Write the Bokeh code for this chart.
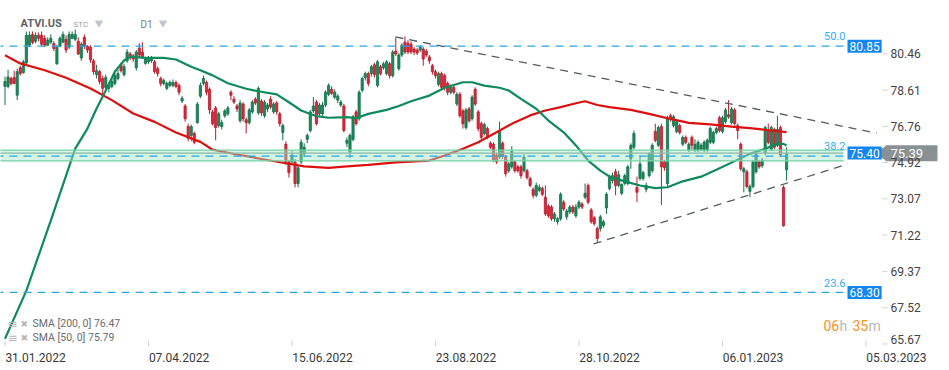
from bokeh.plotting import figure
from bokeh.models import Range1d, FixedTicker, Label, ColumnDataSource
from bokeh.embed import file_html
from bokeh.resources import INLINE

# ---------------- data ----------------
x_tick_index = [0, 47, 94, 141, 188, 235, 282]
x_tick_labels = ["31.01.2022", "07.04.2022", "15.06.2022", "23.08.2022",
                 "28.10.2022", "06.01.2023", "05.03.2023"]
price_ticks = [65.67, 67.52, 69.37, 71.22, 73.07, 74.92, 76.76, 78.61, 80.46]

opens = [
    78.80, 78.80, 79.20, 79.25, 78.35, 79.75, 79.50, 80.00, 80.90, 81.45,
    81.10, 81.40, 81.40, 81.25, 80.90, 81.05, 80.98, 79.95, 80.85, 81.05,
    81.20, 80.80, 81.25, 81.20, 81.10, 80.25, 81.30, 80.85, 80.80, 80.10,
    79.40, 79.55, 79.20, 78.75, 78.70, 78.80, 78.95, 79.20, 79.90, 79.40,
    80.10, 80.45, 80.35, 79.75, 80.75, 80.55, 79.97, 80.05, 80.10, 80.05,
    79.70, 79.20, 78.95, 78.70, 78.85, 78.85, 79.00, 78.85, 78.05, 77.80,
    76.75, 76.30, 76.40, 76.95, 78.30, 78.95, 79.00, 78.65, 77.50, 77.70,
    76.80, 76.75, 77.30, 77.40, 78.50, 78.15, 77.80, 77.05, 77.90, 77.10,
    76.95, 77.50, 78.15, 77.45, 78.05, 77.30, 77.65, 78.15, 77.50, 77.95,
    77.40, 76.45, 75.85, 74.95, 74.95, 74.95, 73.85, 74.95, 75.35, 76.10,
    76.55, 77.55, 78.00, 77.40, 77.40, 77.85, 78.40, 78.65, 78.25, 78.10,
    77.85, 77.80, 75.90, 75.45, 76.10, 77.50, 77.15, 78.60, 79.25, 79.45,
    79.45, 79.90, 78.85, 79.80, 79.75, 79.45, 79.95, 79.35, 80.60, 79.70,
    80.40, 81.05, 81.00, 80.95, 80.70, 80.65, 80.65, 80.70, 80.60, 80.30,
    79.85, 79.55, 78.90, 79.45, 79.35, 78.95, 78.50, 78.75, 77.90, 78.40,
    77.55, 76.70, 77.65, 77.15, 78.65, 77.50, 76.90, 76.40, 76.65, 75.90,
    75.85, 75.30, 75.20, 75.90, 75.20, 74.50, 74.70, 74.95, 74.70, 74.70,
    74.50, 74.50, 74.10, 73.55, 73.25, 73.50, 73.60, 73.15, 72.70, 72.65,
    72.05, 71.90, 72.05, 72.90, 72.15, 72.40, 72.65, 72.20, 72.65, 72.80,
    73.15, 73.75, 72.50, 72.10, 71.55, 71.55, 71.70, 72.60, 73.60, 74.00,
    74.45, 73.75, 73.35, 73.85, 73.85, 75.10, 75.70, 73.65, 74.10, 74.10,
    73.55, 74.25, 74.50, 76.50, 75.80, 76.75, 74.95, 73.85, 77.30, 76.80,
    76.50, 76.80, 75.85, 76.20, 75.55, 76.20, 75.55, 75.55, 75.60, 75.55,
    75.55, 75.95, 75.95, 76.45, 77.20, 76.50, 77.00, 77.35, 76.95, 77.60,
    76.80, 75.85, 74.45, 74.45, 73.45, 73.70, 74.45, 74.95, 74.75, 75.40,
    76.55, 75.60, 76.60, 75.80, 76.70, 73.65, 74.55]

highs = [
    79.30, 79.65, 79.30, 79.60, 79.70, 79.85, 80.15, 81.60, 81.60, 81.60,
    81.55, 81.55, 81.60, 81.40, 81.30, 81.45, 81.10, 80.90, 81.35, 81.60,
    81.40, 81.60, 81.60, 81.70, 81.30, 81.05, 81.45, 80.90, 80.90, 80.20,
    79.90, 79.65, 79.35, 79.40, 79.00, 79.20, 79.50, 79.65, 80.00, 79.95,
    80.70, 80.55, 80.45, 80.65, 81.00, 81.05, 80.30, 80.35, 80.35, 80.15,
    79.80, 79.30, 79.20, 79.05, 79.10, 79.15, 79.10, 78.95, 78.30, 77.90,
    76.90, 76.85, 76.50, 78.00, 79.00, 79.35, 79.10, 78.75, 77.60, 77.80,
    77.50, 77.10, 77.65, 77.80, 78.60, 78.30, 77.90, 78.10, 78.00, 77.20,
    77.70, 78.10, 78.25, 78.80, 78.15, 78.10, 77.95, 78.30, 78.00, 78.05,
    77.50, 76.90, 76.00, 75.05, 75.50, 75.10, 74.75, 76.10, 75.90, 76.40,
    77.60, 78.25, 78.10, 77.95, 78.00, 78.60, 78.95, 78.80, 78.65, 78.40,
    78.10, 77.90, 76.20, 76.40, 77.35, 77.60, 78.60, 79.30, 79.55, 79.55,
    79.90, 80.00, 80.15, 79.90, 80.05, 80.15, 80.05, 80.65, 81.30, 80.50,
    81.00, 81.35, 81.15, 81.10, 80.80, 80.75, 80.90, 80.80, 80.70, 80.40,
    79.95, 79.65, 79.55, 79.55, 79.45, 79.05, 78.90, 78.85, 78.50, 78.50,
    77.65, 77.70, 77.75, 78.35, 78.75, 77.60, 77.00, 76.95, 76.75, 76.00,
    75.95, 75.40, 77.00, 76.00, 75.30, 74.95, 75.75, 75.05, 74.80, 74.80,
    75.35, 74.60, 74.20, 73.65, 73.90, 73.80, 73.70, 73.75, 72.80, 72.75,
    72.40, 72.15, 73.40, 73.00, 72.55, 72.75, 72.75, 72.80, 73.00, 72.90,
    73.85, 73.85, 72.60, 72.20, 71.65, 72.25, 72.00, 73.40, 74.30, 74.40,
    74.60, 74.50, 73.85, 74.35, 74.80, 75.90, 76.55, 74.20, 75.30, 74.50,
    73.90, 75.45, 75.90, 76.90, 76.80, 76.90, 75.05, 77.30, 77.40, 77.35,
    77.10, 76.90, 76.30, 76.30, 75.95, 76.30, 76.10, 76.05, 75.90, 76.05,
    76.15, 76.75, 76.55, 76.75, 77.30, 77.30, 77.70, 78.10, 77.75, 77.70,
    76.90, 75.95, 74.70, 74.55, 73.80, 75.05, 75.45, 75.05, 75.15, 76.80,
    76.90, 76.80, 76.70, 77.30, 76.80, 73.75, 75.70]

lows = [
    77.85, 78.70, 78.85, 78.90, 78.10, 79.35, 79.45, 79.90, 80.80, 80.95,
    81.00, 81.10, 80.85, 80.80, 80.85, 80.95, 80.60, 79.90, 80.80, 81.00,
    80.50, 80.70, 81.20, 81.10, 80.40, 80.10, 80.70, 80.50, 80.00, 79.40,
    79.20, 78.90, 78.40, 78.60, 78.50, 78.70, 78.85, 79.10, 79.50, 79.30,
    80.00, 80.15, 80.05, 79.60, 80.30, 80.20, 79.90, 79.95, 80.00, 79.45,
    79.30, 78.80, 78.85, 78.60, 78.75, 78.75, 78.70, 78.35, 77.95, 77.00,
    76.00, 76.00, 75.85, 76.90, 78.20, 78.85, 78.35, 77.40, 76.80, 76.05,
    76.70, 76.60, 77.20, 77.30, 78.10, 77.90, 77.50, 76.95, 77.00, 76.40,
    76.85, 77.40, 77.85, 77.35, 77.30, 77.20, 77.50, 77.65, 77.40, 77.35,
    76.75, 76.05, 74.80, 74.15, 74.80, 73.65, 73.65, 74.85, 75.20, 75.90,
    76.45, 77.45, 76.80, 77.30, 77.30, 77.75, 78.30, 78.35, 78.15, 77.95,
    77.75, 76.45, 75.70, 75.15, 76.00, 76.80, 77.05, 78.50, 79.10, 78.80,
    79.30, 79.25, 78.75, 79.35, 79.65, 79.35, 79.20, 79.25, 80.35, 79.60,
    80.30, 80.45, 80.45, 80.45, 80.40, 80.40, 80.55, 79.85, 80.30, 79.95,
    79.40, 79.20, 78.80, 78.60, 78.60, 78.35, 78.40, 78.40, 77.80, 77.20,
    76.65, 76.60, 76.95, 77.05, 77.80, 76.50, 76.10, 76.30, 76.10, 75.60,
    74.95, 74.85, 75.10, 75.10, 74.20, 74.40, 74.60, 74.40, 74.40, 74.10,
    74.40, 74.05, 73.65, 73.10, 73.15, 73.40, 73.20, 72.20, 72.10, 71.95,
    71.90, 71.75, 71.95, 72.45, 72.00, 72.30, 72.30, 72.10, 72.55, 72.55,
    73.05, 72.80, 71.80, 71.70, 70.85, 71.40, 71.60, 72.30, 73.50, 73.85,
    73.25, 73.65, 73.25, 73.75, 73.75, 74.60, 75.60, 72.90, 74.00, 74.00,
    73.40, 74.15, 74.40, 75.95, 75.70, 72.75, 74.50, 73.70, 77.00, 76.70,
    76.40, 76.35, 75.75, 75.85, 75.45, 75.55, 75.45, 75.45, 75.50, 75.45,
    75.45, 75.85, 75.85, 76.35, 76.45, 76.40, 76.90, 77.15, 76.85, 76.80,
    76.10, 74.50, 73.40, 73.60, 73.15, 73.60, 74.35, 74.60, 74.65, 75.30,
    75.85, 75.50, 75.60, 75.70, 75.20, 71.65, 74.00]

closes = [
    79.05, 79.28, 78.95, 78.95, 79.55, 79.45, 80.05, 81.40, 81.40, 81.05,
    81.40, 81.25, 80.95, 80.90, 81.15, 81.25, 80.73, 80.80, 81.25, 81.45,
    80.65, 81.45, 81.45, 81.45, 80.45, 80.95, 80.85, 80.65, 80.15, 79.55,
    79.60, 79.05, 78.70, 79.25, 78.85, 79.05, 79.35, 79.45, 79.60, 79.80,
    80.55, 80.25, 80.20, 80.55, 80.40, 80.30, 80.20, 80.25, 80.25, 79.55,
    79.45, 78.95, 79.10, 78.95, 79.00, 79.00, 78.80, 78.50, 78.20, 77.15,
    76.15, 76.75, 75.95, 77.90, 78.85, 79.20, 78.50, 77.60, 76.90, 76.70,
    77.40, 76.95, 77.55, 77.70, 78.35, 78.00, 77.65, 77.95, 77.15, 76.95,
    77.60, 78.00, 77.95, 78.70, 77.45, 78.00, 77.85, 77.75, 77.90, 77.50,
    76.90, 76.80, 74.95, 74.40, 75.30, 73.85, 74.65, 75.95, 75.70, 76.30,
    77.50, 77.80, 76.90, 77.85, 77.85, 78.50, 78.85, 78.45, 78.50, 78.30,
    78.00, 76.55, 76.05, 76.30, 77.25, 76.90, 78.50, 79.20, 79.45, 78.95,
    79.80, 79.40, 80.05, 79.45, 79.95, 80.05, 79.35, 80.55, 80.45, 80.40,
    80.90, 80.55, 80.55, 80.55, 80.55, 80.50, 80.80, 80.20, 80.40, 80.10,
    79.55, 79.35, 79.45, 78.75, 78.75, 78.50, 78.75, 78.50, 78.40, 77.30,
    76.90, 77.60, 77.05, 78.25, 77.90, 76.65, 76.20, 76.85, 76.20, 75.70,
    75.05, 74.95, 76.55, 75.25, 74.35, 74.85, 75.50, 74.50, 74.50, 74.25,
    75.20, 74.15, 73.75, 73.25, 73.75, 73.65, 73.30, 72.30, 72.20, 72.05,
    72.30, 72.05, 73.30, 72.55, 72.45, 72.65, 72.40, 72.65, 72.90, 72.65,
    73.35, 72.90, 71.90, 71.80, 71.05, 72.15, 71.90, 73.30, 74.15, 74.25,
    73.75, 74.30, 73.80, 74.25, 74.70, 75.80, 76.40, 73.40, 74.85, 74.40,
    73.75, 75.35, 75.80, 76.05, 76.70, 74.70, 74.65, 77.15, 77.15, 77.25,
    77.00, 76.45, 76.20, 75.95, 75.85, 75.80, 75.85, 75.95, 75.80, 75.95,
    76.05, 76.65, 76.45, 76.65, 76.55, 77.20, 77.60, 77.25, 77.65, 76.90,
    76.55, 74.60, 74.60, 73.70, 73.70, 74.95, 75.35, 74.70, 75.05, 76.70,
    75.95, 76.70, 75.70, 76.60, 75.30, 71.70, 75.39]

sma200_index = [0, 5, 13, 20, 28, 35, 42, 49, 56, 64, 68, 76, 84, 92, 98, 106, 112,
                119, 128, 139, 144, 150, 155, 161, 166, 172, 177, 182, 187, 190, 194,
                198, 205, 211, 218, 224, 231, 238, 244, 251, 256]
sma200_values = [80.39, 79.97, 79.62, 79.24, 78.69, 78.10, 77.42, 76.99, 76.45, 75.97,
                 75.57, 75.33, 75.10, 74.88, 74.72, 74.65, 74.72, 74.80, 74.93, 75.02,
                 75.28, 75.62, 75.95, 76.46, 76.89, 77.32, 77.57, 77.74, 77.94, 78.04,
                 77.85, 77.74, 77.60, 77.40, 77.14, 76.94, 76.86, 76.75, 76.67, 76.55,
                 76.47]

sma50_index = [0, 7, 15, 23, 27, 30, 33, 36, 39, 41, 46, 52, 56, 61, 64, 68, 73, 79, 83,
               89, 93, 97, 102, 106, 112, 115, 119, 125, 129, 133, 139, 144, 150, 153,
               157, 162, 165, 169, 174, 178, 183, 187, 191, 195, 198, 203, 208, 213,
               217, 222, 228, 233, 239, 244, 249, 253, 255, 256]
sma50_values = [65.94, 68.39, 71.96, 75.63, 76.65, 77.67, 78.59, 79.56, 80.12, 80.32,
                80.25, 80.25, 80.17, 79.80, 79.62, 79.36, 78.96, 78.68, 78.55, 78.39,
                77.99, 77.57, 77.28, 77.20, 77.23, 77.18, 77.40, 77.60, 77.80, 78.04,
                78.33, 78.73, 79.01, 79.01, 78.84, 78.73, 78.59, 78.16, 77.66, 77.06,
                76.46, 75.79, 75.02, 74.51, 74.20, 73.96, 73.75, 73.61, 73.66, 73.96,
                74.20, 74.55, 74.99, 75.36, 75.62, 75.87, 75.87, 75.79]

fib_levels = [80.85, 75.24, 68.30]
fib_labels = ["50.0", "38.2", "23.6"]
level_boxes = [80.85, 75.40, 68.30]
zone_bottom, zone_level, zone_top = 75.00, 75.40, 75.55
trend_top_index = [127.9, 285.5]
trend_top_price = [81.32, 76.42]
trend_low_index = [192.8, 276.0]
trend_low_price = [70.77, 74.84]
last_price = 75.39
sma200_last = 76.47
sma50_last = 75.79

# ---------------- helpers (reference pixel -> data) ----------------
def ix(px):
    return (px - 4.5) / 3.053

def py(px):
    return 83.177 - px / 19.62

FONT = "Roboto"
GREEN, GREEN_EDGE = "#1b8a5a", "#12704a"
RED, RED_EDGE = "#e0283b", "#b51c2c"
BLUE = "#2aa6e8"
GRAYBOX = "#899195"

p = figure(frame_width=941, frame_height=346,
           x_range=Range1d(ix(0), ix(941)), y_range=Range1d(py(346), py(0)),
           output_backend="svg", toolbar_location=None,
           min_border_left=0, min_border_top=0, min_border_right=0, min_border_bottom=16,
           background_fill_color="white", border_fill_color="white",
           outline_line_color=None)
p.xgrid.visible = False
p.ygrid.visible = False
p.yaxis.visible = False

# ---------------- candles ----------------
n = len(closes)
xs = list(range(n))
up = [c >= o for o, c in zip(opens, closes)]
src = ColumnDataSource(dict(
    x=xs,
    top=[max(o, c) for o, c in zip(opens, closes)],
    bottom=[min(o, c) for o, c in zip(opens, closes)],
    high=highs, low=lows,
    fill=[GREEN if u else RED for u in up],
    edge=[GREEN_EDGE if u else RED_EDGE for u in up],
))
p.segment(x0="x", x1="x", y0="low", y1="high", line_color="edge", line_width=1, source=src)
p.vbar(x="x", width=0.72, top="top", bottom="bottom", fill_color="fill",
       line_color="edge", line_width=0.8, source=src)

# ---------------- moving averages ----------------
p.line(sma200_index, sma200_values, line_color="#dd1010", line_width=2.2)
p.line(sma50_index, sma50_values, line_color="#0e8a5c", line_width=2.2)

# ---------------- zone (semi-transparent) ----------------
p.quad(left=[ix(-5)], right=[ix(843)], bottom=[zone_bottom], top=[zone_top],
       fill_color="#9fe6c6", fill_alpha=0.45, line_color=None)
p.segment(x0=[ix(-5)] * 2, x1=[ix(843)] * 2, y0=[zone_bottom, zone_top],
          y1=[zone_bottom, zone_top], line_color="#74d2a6", line_width=1.3)
p.segment(x0=[ix(-5)], x1=[ix(843)], y0=[zone_level], y1=[zone_level],
          line_color="#8fb8a8", line_width=1.2)

# ---------------- fibonacci levels ----------------
for lvl in fib_levels:
    p.line([ix(-5), ix(845)], [lvl, lvl], line_color=BLUE, line_width=1.2, line_dash="8 6")

# ---------------- triangle trendlines ----------------
p.line(trend_top_index, trend_top_price, line_color="#555b60", line_width=1.3, line_dash="8 6")
p.line(trend_low_index, trend_low_price, line_color="#555b60", line_width=1.3, line_dash="8 6")

# small date tick marks at the bottom
p.segment(x0=x_tick_index, x1=x_tick_index, y0=[py(340)] * len(x_tick_index),
          y1=[py(346)] * len(x_tick_index), line_color="#cfcfcf", line_width=1)

# ---------------- x axis ----------------
xa = p.xaxis[0]
xa.ticker = FixedTicker(ticks=[t + 10 for t in x_tick_index])
xa.major_label_overrides = {t + 10: lab for t, lab in zip(x_tick_index, x_tick_labels)}
xa.axis_line_color = None
xa.major_tick_line_color = None
xa.minor_tick_line_color = None
xa.major_label_standoff = 0
xa.major_label_text_font = FONT
xa.major_label_text_font_size = "12px"
xa.major_label_text_color = "#3a3a3a"

# ---------------- price scale (right) ----------------
p.segment(x0=[ix(882)] * len(price_ticks), x1=[ix(887)] * len(price_ticks),
          y0=price_ticks, y1=price_ticks, line_color="#d0d0d0", line_width=1)


def lab(x, y, text, size="12px", color="#444444", align="left", style="normal",
        font=FONT, **kw):
    p.add_layout(Label(x=x, y=y, text=text, text_font=font, text_font_size=size,
                       text_color=color, text_align=align, text_baseline="middle",
                       text_font_style=style, **kw))


for t in price_ticks:
    ty = t if t > 66 else py(339)
    lab(ix(890), ty, f"{t:.2f}", size="12px", color="#444444")

# header
lab(ix(20), py(23), "ATVI.US", size="11px", color="#5f6368", style="bold")
lab(ix(73), py(23.5), "STC", size="8px", color="#9aa0a6")
lab(ix(140), py(23.5), "D1", size="10px", color="#7a7f85")
p.scatter(x=[ix(98.5), ix(162.5)], y=[py(22.5), py(22.5)], marker="inverted_triangle",
          size=7, color="#c4c8cc")

# fib level captions and value boxes
for lvl, txt in zip(fib_levels, fib_labels):
    lab(ix(845), lvl + 0.5, txt, size="11px", color="#35aef0", align="right")
for val in level_boxes:
    lab(ix(847), val, f"{val:.2f}", size="12px", color="white",
        background_fill_color="#1287f2", background_fill_alpha=1.0, padding=2)

# current price box (with pointer)
half = 8 / 19.62
p.quad(left=[ix(885)], right=[ix(937)], bottom=[last_price - half], top=[last_price + half],
       fill_color=GRAYBOX, line_color=None)
p.scatter(x=[ix(882)], y=[last_price], marker="triangle", angle=1.5708, size=14,
          color=GRAYBOX)
lab(ix(890), last_price, f"{last_price:.2f}", size="13px", color="white")

# countdown
lab(ix(823), py(325), "06", size="14px", color="#f7931e")
lab(ix(839), py(325), "h", size="14px", color="#b8b8b8")
lab(ix(852), py(325), "35", size="14px", color="#f7931e")
lab(ix(868), py(325), "m", size="14px", color="#b8b8b8")

# legend
lab(ix(7), py(323), "\u2261", size="12px", color="#b5b5b5", font="DejaVu Sans")
lab(ix(20), py(323), "\u2716", size="9px", color="#b5b5b5", font="DejaVu Sans")
lab(ix(32), py(323), f"SMA [200, 0] {sma200_last:.2f}", size="10.5px", color="#6b6b6b")
lab(ix(7), py(337), "\u2261", size="12px", color="#b5b5b5", font="DejaVu Sans")
lab(ix(20), py(337), "\u2716", size="9px", color="#b5b5b5", font="DejaVu Sans")
lab(ix(32), py(337), f"SMA [50, 0] {sma50_last:.2f}", size="10.5px", color="#6b6b6b")

open("out.html", "w").write(file_html(p, INLINE))
